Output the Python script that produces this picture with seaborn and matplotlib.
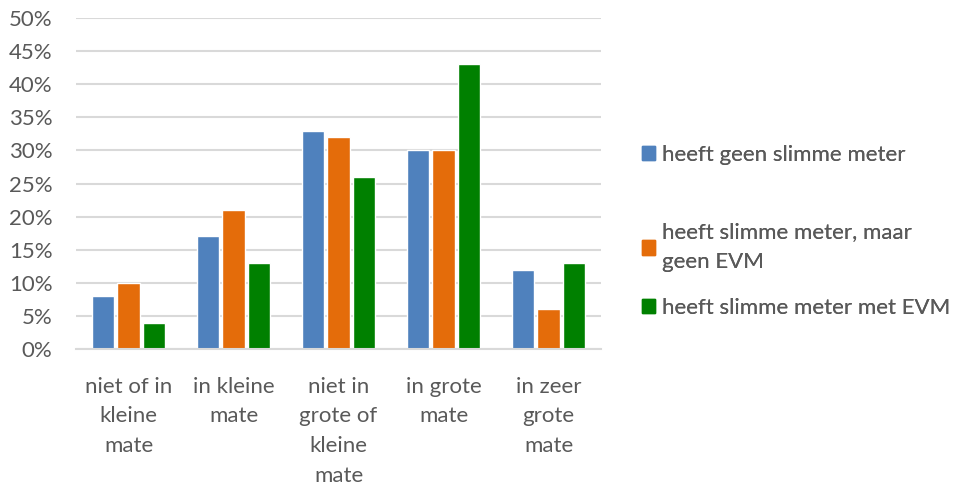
import pandas as pd
import matplotlib.pyplot as plt
import seaborn as sns
from matplotlib.patches import Patch

categories = ["niet of in\nkleine\nmate", "in kleine\nmate", "niet in\ngrote of\nkleine\nmate",
              "in grote\nmate", "in zeer\ngrote\nmate"]
series = ["heeft geen slimme meter", "heeft slimme meter, maar\ngeen EVM", "heeft slimme meter met EVM"]
geen_meter = [8, 17, 33, 30, 12]
meter_geen_evm = [10, 21, 32, 30, 6]
meter_met_evm = [4, 13, 26, 43, 13]
colors = ["#4F81BD", "#E46C0A", "#008000"]

rows = []
for s, vals in zip(series, [geen_meter, meter_geen_evm, meter_met_evm]):
    for c, v in zip(categories, vals):
        rows.append({"cat": c, "serie": s, "pct": v / 100})
df = pd.DataFrame(rows)

sns.set_style("white")
plt.rcParams['font.family'] = ['Lato', 'DejaVu Sans']
txt = "#595959"
grid = "#D9D9D9"
fs = 16

fig = plt.figure(figsize=(9.54, 4.83), dpi=100)
ax = fig.add_axes([0.0797, 0.2774, 0.5503, 0.6853])
sns.barplot(data=df, x="cat", y="pct", hue="serie", palette=colors, width=0.72, gap=0.12,
            saturation=1, ax=ax, legend=False)

ax.set_ylim(0, 0.5)
ax.set_xlim(-0.5, 4.5)
ax.set_yticks([i * 0.05 for i in range(11)])
ax.set_yticklabels([f"{i * 5}%" for i in range(11)])
ax.yaxis.grid(True, color=grid, linewidth=1.5)
ax.set_axisbelow(True)
for sp in ["top", "right", "left"]:
    ax.spines[sp].set_visible(False)
ax.spines["bottom"].set_color(grid)
ax.spines["bottom"].set_linewidth(1.5)
ax.set_xlabel("")
ax.set_ylabel("")
ax.tick_params(axis="y", length=0, pad=17, labelsize=fs, labelcolor=txt)
ax.tick_params(axis="x", which="major", length=0, pad=20, labelsize=fs, labelcolor=txt)
ax.set_xticks([i - 0.5 for i in range(6)], minor=True)
ax.tick_params(axis="x", which="minor", length=6, width=1.5, color=grid)
for lab in ax.get_xticklabels():
    lab.set_linespacing(1.6)
    lab.set_ha("center")
    lab.set_multialignment("center")

ypos = [0.68, 0.488, 0.363]
for s, col, y in zip(series, colors, ypos):
    leg = fig.legend(handles=[Patch(color=col, label=s)], loc="center left",
                     bbox_to_anchor=(0.673, y), frameon=False, fontsize=fs,
                     handlelength=0.6, handleheight=0.6, handletextpad=0.3, labelcolor=txt,
                     borderaxespad=0, borderpad=0)
    for t in leg.get_texts():
        t.set_linespacing(1.6)
    fig.add_artist(leg)

fig.savefig("out.png", dpi=100)
